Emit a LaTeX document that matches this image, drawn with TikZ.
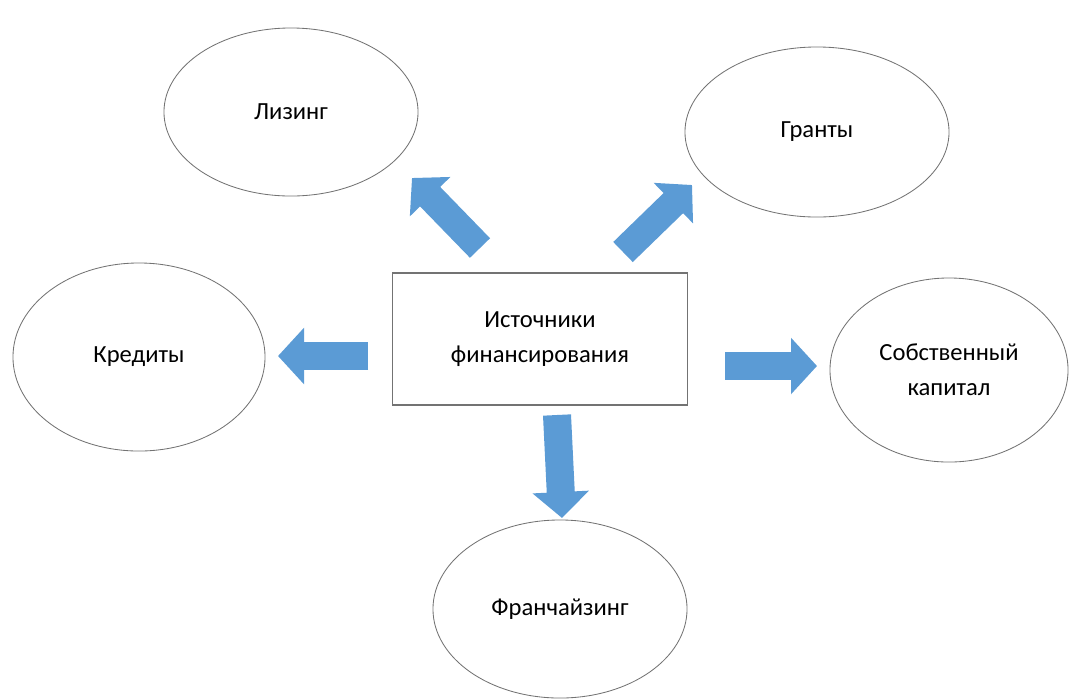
\documentclass[tikz,border=0pt]{standalone}
\usepackage{fontspec}
\setmainfont{Carlito}
\usetikzlibrary{arrows.meta,shapes.geometric}
\definecolor{arrowblue}{HTML}{5B9BD5}
\tikzset{
    x=0.025cm, y=-0.025cm, % one unit is one pixel of the reference
    source/.style={draw=gray!90!black, line width=0.6pt, inner sep=0pt,
        ellipse, align=center, font=\fontsize{17.5}{25}\selectfont},
    hub/.style={draw=gray!90!black, line width=0.8pt, rectangle, inner sep=0pt,
        minimum width=7.375cm, minimum height=3.3cm, align=center,
        font=\fontsize{17.5}{25}\selectfont},
    blockarrow/.style={arrowblue, line width=0.7cm,
        -{Triangle[width=1.375cm, length=0.65cm]}},
}

\begin{document}
\begin{tikzpicture}
  \useasboundingbox (0,0) rectangle (1070,699);

  % central box
  \node[hub] (src) at (540,339) {Источники\\финансирования};

  % the five sources
  \node[source, minimum width=6.35cm, minimum height=4.2cm] (lizing) at (291,112) {Лизинг};
  \node[source, minimum width=6.6cm,  minimum height=4.25cm] (granty) at (817,132) {Гранты};
  \node[source, minimum width=6.3cm,  minimum height=4.7cm] (kredity) at (139,357) {Кредиты};
  \node[source, minimum width=5.95cm, minimum height=4.6cm] (kapital) at (949,370) {Собственный\\капитал};
  \node[source, minimum width=6.35cm, minimum height=4.45cm] (franch) at (560,609) {Франчайзинг};

  % block arrows
  \coordinate (a1) at (480,248);  \coordinate (b1) at (412,178);
  \coordinate (a2) at (623,252);  \coordinate (b2) at (692,185);
  \coordinate (a3) at (368,356);  \coordinate (b3) at (278,356);
  \coordinate (a4) at (725,366);  \coordinate (b4) at (817,366);
  \coordinate (a5) at (557,415);  \coordinate (b5) at (562,518);

  \draw[blockarrow] (a1) -- (b1);
  \draw[blockarrow] (a2) -- (b2);
  \draw[blockarrow] (a3) -- (b3);
  \draw[blockarrow] (a4) -- (b4);
  \draw[blockarrow] (a5) -- (b5);
\end{tikzpicture}
\end{document}
